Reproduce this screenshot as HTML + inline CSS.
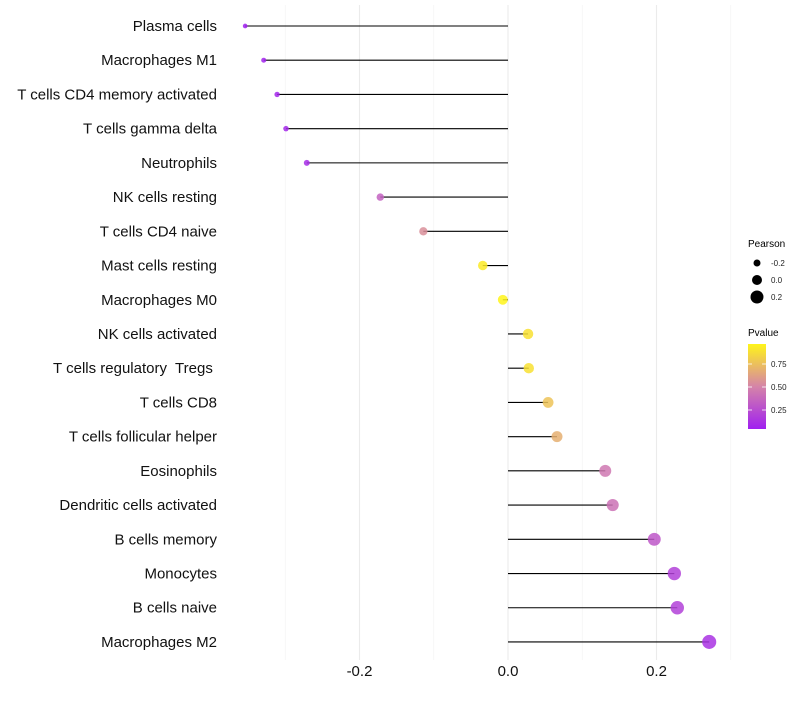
<!DOCTYPE html>
<html><head><meta charset="utf-8"><style>
body{margin:0;background:#fff;}
svg text{font-family:"Liberation Sans",Arial,sans-serif;white-space:pre;}
</style></head><body>
<svg id="chart" width="800" height="700" viewBox="0 0 800 700">
<defs>
<linearGradient id="pg" x1="0" y1="1" x2="0" y2="0">
<stop offset="0" stop-color="#a020f0"/>
<stop offset="0.5" stop-color="#d584a8"/>
<stop offset="1" stop-color="#fff41a"/>
</linearGradient>
</defs>
<g id="grid"></g>
<g id="marks"></g>
<g id="legend">
<text x="748" y="247" font-size="10">Pearson</text>
<g id="sizeleg"></g>
<text x="748" y="336" font-size="10">Pvalue</text>
<rect x="748" y="344" width="18" height="85" fill="url(#pg)"/>
<g id="cbticks"></g>
</g>
</svg>
<script>
const categories=["Plasma cells","Macrophages M1","T cells CD4 memory activated","T cells gamma delta","Neutrophils","NK cells resting","T cells CD4 naive","Mast cells resting","Macrophages M0","NK cells activated","T cells regulatory  Tregs ","T cells CD8","T cells follicular helper","Eosinophils","Dendritic cells activated","B cells memory","Monocytes","B cells naive","Macrophages M2"];
const pearson=[-0.354,-0.329,-0.311,-0.299,-0.271,-0.172,-0.114,-0.034,-0.007,0.027,0.028,0.054,0.066,0.131,0.141,0.197,0.224,0.228,0.271];
const pvalues=[0.05,0.07,0.08,0.09,0.11,0.35,0.55,0.92,0.97,0.88,0.88,0.76,0.68,0.45,0.42,0.3,0.2,0.2,0.13];
const xTicks=[-0.2,0.0,0.2];
const xMinor=[-0.3,-0.1,0.1,0.3];
const sizeLegend=[-0.2,0.0,0.2];
const cbTicks=[0.25,0.5,0.75];

const NS="http://www.w3.org/2000/svg";
const x=v=>508+v*742.5;
const y=i=>26+i*34.22;
const r=v=>5+v*7.5;
const cb=p=>387-(p-0.5)*92;
function lerp(a,b,t){return a.map((c,i)=>Math.round(c+(b[i]-c)*t));}
function col(p){const s=[[160,32,240],[213,132,168],[255,244,26]];const lo=(p-0.05)/0.91;const t=Math.max(0,Math.min(1,lo));
 const c=t<0.5?lerp(s[0],s[1],t*2):lerp(s[1],s[2],(t-0.5)*2);return`rgb(${c})`;}
function mk(tag,attrs,parent){const e=document.createElementNS(NS,tag);for(const k in attrs)e.setAttribute(k,attrs[k]);parent.appendChild(e);return e;}
const grid=document.getElementById('grid'),marks=document.getElementById('marks');
xMinor.forEach(v=>{const l=mk('line',{x1:x(v),x2:x(v),y1:5,y2:660,stroke:'#f2f2f2','stroke-width':0.6},grid);

});
xTicks.forEach(v=>{const l=mk('line',{x1:x(v),x2:x(v),y1:5,y2:660,stroke:'#ebebeb','stroke-width':1.1},grid);


const t=mk('text',{x:x(v),y:676,'font-size':15,'text-anchor':'middle',fill:'#111'},grid);t.textContent=v.toFixed(1);

});
categories.forEach((c,i)=>{
 const yy=y(i);
 const g=mk('g',{},marks);
 
 
 const t=mk('text',{x:217,y:yy+5,'font-size':15,'text-anchor':'end',fill:'#111'},g);t.textContent=c;
 
 
 const l=mk('line',{x1:x(0),x2:x(pearson[i]),y1:yy,y2:yy,stroke:'#000','stroke-width':1.1},g);
 
 
 const d=mk('circle',{cx:x(pearson[i]),cy:yy,r:r(pearson[i]),fill:col(pvalues[i]),'fill-opacity':0.85},g);
 
 
});
const sl=document.getElementById('sizeleg');
sizeLegend.forEach((v,i)=>{const yy=263+i*17;
 const d=mk('circle',{cx:757,cy:yy,r:r(v),fill:'#000'},sl);
 
 
 const t=mk('text',{x:771,y:yy+3,'font-size':8,fill:'#222'},sl);t.textContent=v.toFixed(1);
 
 });
const ct=document.getElementById('cbticks');
cbTicks.forEach(p=>{const yy=cb(p);
 mk('line',{x1:748,x2:752,y1:yy,y2:yy,stroke:'#fff','stroke-width':0.8},ct);
 mk('line',{x1:762,x2:766,y1:yy,y2:yy,stroke:'#fff','stroke-width':0.8},ct);
 const t=mk('text',{x:771,y:yy+3,'font-size':8,fill:'#222'},ct);t.textContent=p.toFixed(2);
 
 });
</script>
</body></html>
